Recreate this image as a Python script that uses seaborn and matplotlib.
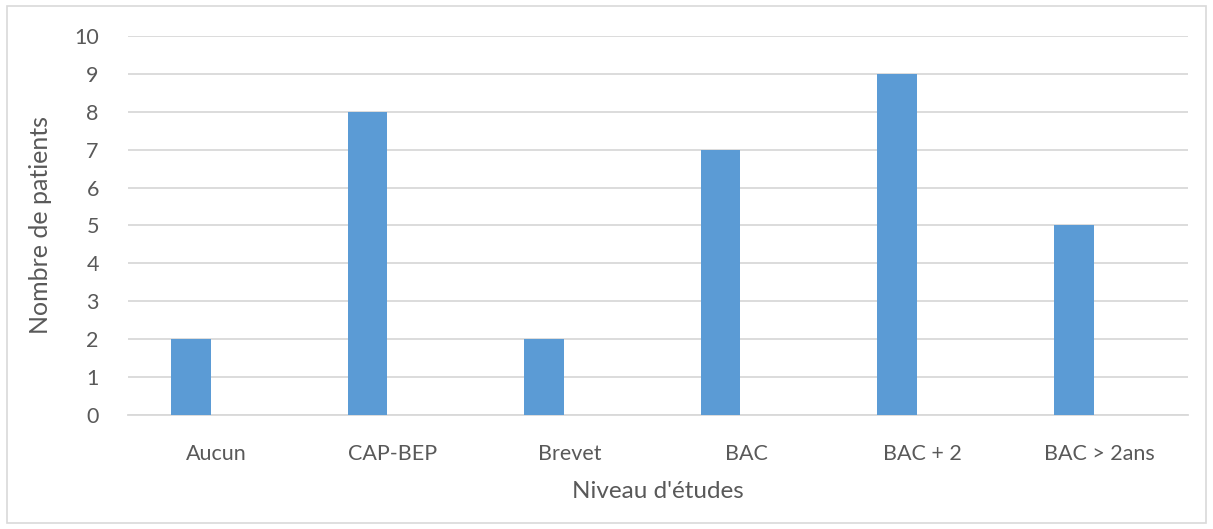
import matplotlib
matplotlib.use("Agg")
import matplotlib.pyplot as plt
import pandas as pd
import seaborn as sns

# Education level of patients
niveaux = ["Aucun", "CAP-BEP", "Brevet", "BAC", "BAC + 2", "BAC > 2ans"]
patients = [2, 8, 2, 7, 9, 5]
yticks = list(range(0, 11))

df = pd.DataFrame({"niveau": niveaux, "patients": patients, "serie": "Patients"})

sns.set_theme(style="white")
plt.rcParams["font.family"] = ["Lato", "DejaVu Sans"]

text_col = "#595959"
grid_col = "#D9D9D9"
bar_col = "#5B9BD5"

fig = plt.figure(figsize=(12.13, 5.29), dpi=100)
ax = fig.add_axes([0.1055, 0.2155, 0.8735, 0.7165])

sns.barplot(
    data=df, x="niveau", y="patients", hue="serie",
    hue_order=["Patients", "_vide"], order=niveaux,
    palette={"Patients": bar_col, "_vide": bar_col}, saturation=1,
    width=0.576, gap=0.22, dodge=True, legend=False,
    linewidth=0, ax=ax, zorder=3,
)

ax.set_ylim(0, 10)
ax.set_xlim(-0.5, len(niveaux) - 0.5)
ax.set_yticks(yticks)
ax.yaxis.grid(True, color=grid_col, linewidth=1.3, zorder=0)
ax.set_axisbelow(True)
for s in ["top", "right", "left"]:
    ax.spines[s].set_visible(False)
ax.spines["bottom"].set_color(grid_col)
ax.spines["bottom"].set_linewidth(1.3)
ax.tick_params(axis="both", length=0, labelsize=15.5, colors=text_col)
ax.tick_params(axis="y", pad=21)
ax.tick_params(axis="x", pad=21)

ax.set_xlabel("Niveau d'études", fontsize=17.5, color=text_col, labelpad=12)
ax.set_ylabel("Nombre de patients", fontsize=18, color=text_col, labelpad=16)

# outer chart border
fig.patches.append(plt.Rectangle((0.006, 0.011), 0.988, 0.978, transform=fig.transFigure,
                                 fill=False, edgecolor=grid_col, linewidth=1.2))

fig.savefig("out.png", dpi=100)
